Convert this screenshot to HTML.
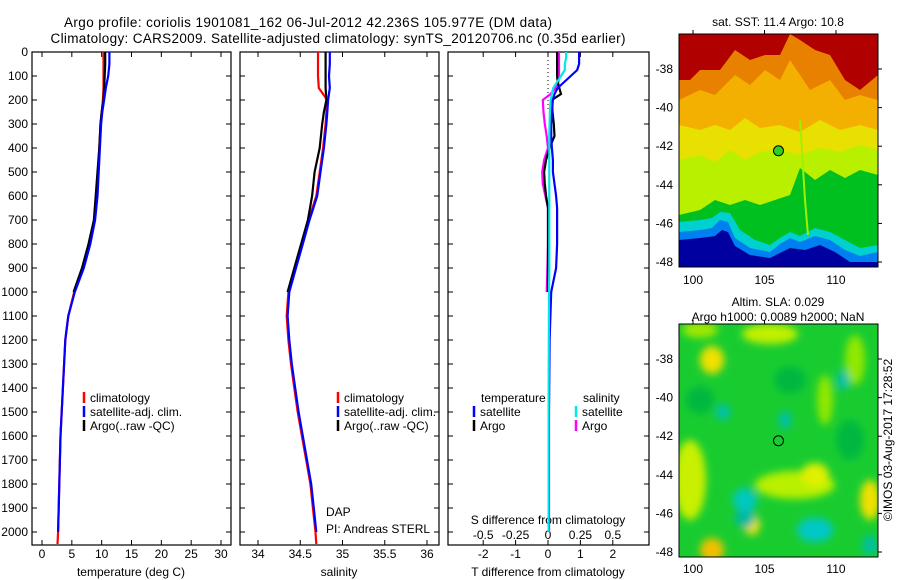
<!DOCTYPE html>
<html><head><meta charset="utf-8"><style>
html,body{margin:0;padding:0;background:#fff;}
svg{display:block;font-family:"Liberation Sans",sans-serif;}
</style></head><body>
<svg id="c" width="900" height="580" viewBox="0 0 900 580" xmlns="http://www.w3.org/2000/svg">
<defs>
<filter id="bl" x="-20%" y="-20%" width="140%" height="140%"><feGaussianBlur stdDeviation="4"/></filter>
<clipPath id="cm1"><rect x="679" y="34" width="199" height="233"/></clipPath>
<clipPath id="cm2"><rect x="679" y="324" width="199" height="233"/></clipPath>
</defs>
<text x="308" y="27" font-size="13.5" text-anchor="middle" textLength="488">Argo profile: coriolis 1901081_162 06-Jul-2012 42.236S 105.977E (DM data)</text>
<text x="338" y="43" font-size="13.5" text-anchor="middle" textLength="575">Climatology: CARS2009. Satellite-adjusted climatology: synTS_20120706.nc (0.35d earlier)</text>

<g clip-path="url(#cm1)">
<rect x="679" y="34" width="199" height="233" fill="#00c020"/>
<path d="M679 34H878V175L860 170 845 178 830 170 815 180 800 168 790 195 775 200 760 205 745 200 730 205 715 200 700 210 679 215Z" fill="#b8f000"/>
<path d="M679 34H878V150L860 145 840 152 820 148 800 155 780 150 760 152 745 160 730 150 715 162 700 155 679 160Z" fill="#e8e000"/>
<path d="M679 34H878V130L860 125 840 130 820 120 800 132 780 125 760 128 745 118 730 130 715 125 700 130 679 125Z" fill="#f4b000"/>
<path d="M679 34H878V100L860 95 845 100 830 80 810 90 800 75 790 60 780 80 765 70 750 85 735 75 715 95 700 90 679 100Z" fill="#e88000"/>
<path d="M679 34H878V75L860 90 845 80 830 55 815 50 800 40 790 34 780 55 765 55 750 60 735 50 720 70 700 70 690 80 679 80Z" fill="#b00000"/>
<path d="M679 222L700 220 712 218 720 212 730 213 740 230 755 240 770 245 780 238 790 232 800 236 815 228 830 232 845 240 860 248 878 245V270H679Z" fill="#00d0d0"/>
<path d="M679 232L700 230 712 228 720 220 728 222 735 238 750 248 770 252 780 244 790 238 800 242 815 236 830 240 845 250 860 256 878 252V270H679Z" fill="#0080f0"/>
<path d="M679 240L700 238 715 236 722 230 728 232 735 246 750 255 770 258 790 248 805 250 820 245 835 252 850 262 878 262V270H679Z" fill="#0000a0"/>
<path d="M800 120L805 200 808 235" stroke="#a0f000" stroke-width="2" fill="none"/>
</g>
<rect x="679" y="34" width="199" height="233" fill="none" stroke="#000"/>
<text x="778" y="26" font-size="12" text-anchor="middle">sat. SST: 11.4 Argo: 10.8</text>

<g clip-path="url(#cm2)">
<rect x="679" y="324" width="199" height="233" fill="#18cc30"/>
<g filter="url(#bl)">
<ellipse cx="690" cy="480" rx="16" ry="40" fill="#c8f000"/>
<ellipse cx="712" cy="360" rx="12" ry="14" fill="#f0e000"/>
<ellipse cx="795" cy="485" rx="40" ry="14" fill="#b8f000"/>
<ellipse cx="815" cy="475" rx="14" ry="12" fill="#e0f000"/>
<ellipse cx="770" cy="334" rx="28" ry="10" fill="#c0f000"/>
<ellipse cx="700" cy="330" rx="18" ry="8" fill="#a0e800"/>
<ellipse cx="870" cy="500" rx="10" ry="20" fill="#f0e000"/>
<ellipse cx="712" cy="550" rx="12" ry="12" fill="#f0c000"/>
<ellipse cx="752" cy="525" rx="8" ry="10" fill="#f0e000"/>
<ellipse cx="825" cy="400" rx="8" ry="25" fill="#90e800"/>
<ellipse cx="855" cy="360" rx="10" ry="25" fill="#90e800"/>
<ellipse cx="700" cy="400" rx="14" ry="14" fill="#00b840"/>
<ellipse cx="790" cy="380" rx="16" ry="14" fill="#00b840"/>
<ellipse cx="850" cy="440" rx="14" ry="20" fill="#00b840"/>
<ellipse cx="745" cy="518" rx="10" ry="10" fill="#00b8a0"/>
<ellipse cx="745" cy="500" rx="12" ry="12" fill="#00c8c0"/>
<ellipse cx="815" cy="530" rx="18" ry="12" fill="#00c8c8"/>
<ellipse cx="723" cy="412" rx="7" ry="8" fill="#00c0b0"/>
<ellipse cx="785" cy="420" rx="6" ry="9" fill="#00c0b0"/>
<ellipse cx="843" cy="380" rx="6" ry="10" fill="#00c0b0"/>
<ellipse cx="870" cy="545" rx="8" ry="10" fill="#00c0a0"/>
</g>
</g>
<rect x="679" y="324" width="199" height="233" fill="none" stroke="#000"/>
<text x="778" y="306" font-size="12" text-anchor="middle">Altim. SLA: 0.029</text>
<text x="778" y="321" font-size="12" text-anchor="middle">Argo h1000: 0.0089 h2000: NaN</text>
<text transform="translate(892,440) rotate(-90)" font-size="12" text-anchor="middle">©IMOS 03-Aug-2017 17:28:52</text>

<text x="326" y="516" font-size="12">DAP</text>
<text x="326" y="533" font-size="12">PI: Andreas STERL</text>
<text x="548" y="524" font-size="12" text-anchor="middle">S difference from climatology</text>
</svg>
<script>
const tDepth = [0,50,100,150,200,250,300,400,500,600,700,800,900,1000,1100,1200,1300,1400,1500,1600,1700,1800,1900,2000,2050];
const tClim = [10.3,10.3,10.3,10.3,10.2,10.0,9.8,9.6,9.4,9.1,8.8,7.9,6.8,5.4,4.4,3.9,3.7,3.5,3.3,3.1,3.0,2.9,2.8,2.7,2.6];
const tSat = [11.3,11.3,11.1,10.7,10.4,10.1,9.9,9.7,9.5,9.3,8.9,8.1,7.0,5.5,4.4,3.9,3.7,3.5,3.3,3.1,3.0,2.9,2.8,2.7];
const tArgo = [10.6,10.6,10.5,10.4,10.3,10.0,9.8,9.6,9.3,9.0,8.7,7.8,6.7,5.3];
const sClim = [34.71,34.71,34.71,34.72,34.82,34.81,34.80,34.77,34.73,34.69,34.60,34.52,34.44,34.36,34.34,34.36,34.39,34.43,34.47,34.52,34.57,34.62,34.65,34.68,34.69];
const sSat = [34.85,34.85,34.84,34.85,34.83,34.82,34.81,34.78,34.74,34.70,34.61,34.53,34.45,34.37,34.35,34.37,34.40,34.44,34.48,34.53,34.58,34.63,34.66,34.69];
const sArgo = [34.80,34.80,34.80,34.80,34.81,34.78,34.76,34.73,34.67,34.64,34.59,34.51,34.43,34.35];
const dDepth = [0,25,50,75,100,125,150,175,200,250,300,350,400,450,500,550,600,650,700,800,900,1000,1200,1500,2000];
const dTSat = [0.96,0.96,0.96,0.9,0.7,0.5,0.3,0.2,0.15,0.12,0.1,0.1,0.12,0.15,0.15,0.2,0.25,0.28,0.28,0.28,0.25,0.1,0.05,0.03,0.03];
const dTArgo = [0.28,0.28,0.28,0.28,0.28,0.3,0.35,0.4,0.12,0.14,0.18,0.2,0.05,-0.06,-0.12,-0.1,-0.06,0,0,0,0,0];
const dSSat = [0.14,0.14,0.13,0.13,0.1,0.07,0.04,0.03,0.02,0.015,0.012,0.01,0.01,0.01,0.01,0.01,0.01,0.01,0.01,0.01,0.01,0.008,0.006,0.005,0.005];
const dSArgo = [0.085,0.085,0.085,0.085,0.085,0.08,0.06,0.02,-0.04,-0.035,-0.025,-0.01,0,-0.03,-0.045,-0.04,-0.02,0,0,0,-0.005,-0.01];
const depthTicks = [0,100,200,300,400,500,600,700,800,900,1000,1100,1200,1300,1400,1500,1600,1700,1800,1900,2000];
const tTicks = [0,5,10,15,20,25,30];
const sTicks = [34,34.5,35,35.5,36];
const dTTicks = [-2,-1,0,1,2];
const dSTicks = [-0.5,-0.25,0,0.25,0.5];
const lonTicks = [100,105,110];
const latTicks = [-38,-40,-42,-44,-46,-48];
const argoLon = 105.977, argoLat = -42.236;

const NS = 'http://www.w3.org/2000/svg';
const svg = document.getElementById('c');
const top0 = 52, bot0 = 545;
const yD = d => top0 + d * 0.24;
const xT = v => 42 + v * (179/30);
const xS = v => 258 + (v - 34) * 84.5;
const xDT = v => 548 + v * 32.4;
const xDS = v => 548 + v * 129.6;
const xLon = v => 693 + (v - 100) * 14.3;
const yLat1 = v => 69 + (-38 - v) * 19.3;
const yLat2 = v => 359 + (-38 - v) * 19.3;
function mk(tag, attrs, parent) {
  const e = document.createElementNS(NS, tag);
  for (const k in attrs) e.setAttribute(k, attrs[k]);
  (parent || svg).appendChild(e);
  return e;
}
function txt(x, y, s, anchor, size) {
  const t = mk('text', {x: x, y: y, 'font-size': size || 12, 'text-anchor': anchor || 'middle'});
  t.textContent = s;
  return t;
}
const panels = [[32,231],[240,439],[448,649]];
panels.forEach((p, i) => {
  const r = mk('rect', {x: p[0], y: top0, width: p[1]-p[0], height: bot0-top0, fill: 'none', stroke: '#000', 'stroke-width': 1.2});
  
  
  depthTicks.forEach(d => {
    mk('line', {x1: p[0], x2: p[0]+5, y1: yD(d), y2: yD(d), stroke: '#000'});
    mk('line', {x1: p[1]-5, x2: p[1], y1: yD(d), y2: yD(d), stroke: '#000'});
  });
});
depthTicks.forEach(d => {
  const t = txt(28, yD(d) + 4, String(d), 'end');
  
  
});
function xTicks(ticks, fx, y) {
  ticks.forEach(v => {
    const x = fx(v);
    mk('line', {x1: x, x2: x, y1: top0, y2: top0+5, stroke: '#000'});
    mk('line', {x1: x, x2: x, y1: bot0-5, y2: bot0, stroke: '#000'});
    const t = txt(x, y, String(v));
    
    
  });
}
xTicks(tTicks, xT, 558);
xTicks(sTicks, xS, 558);
xTicks(dTTicks, xDT, 558);
dSTicks.forEach(v => {
  const t = txt(xDS(v), 539, String(v));
  
  
});
[['temperature (deg C)',131,'temperature-axis-title'],['salinity',339,'salinity-axis-title'],['T difference from climatology',548,'t-diff-axis-title']].forEach(a => {
  const t = txt(a[1], 576, a[0]);
  
  
});
const zl = mk('line', {x1: xDT(0), x2: xDT(0), y1: top0, y2: yD(250), stroke: '#000', 'stroke-dasharray': '1,3'});



function series(depths, vals, fx, color, name) {
  const pts = vals.map((v, i) => fx(v).toFixed(1) + ',' + yD(depths[i]).toFixed(1)).join(' ');
  const l = mk('polyline', {points: pts, fill: 'none', stroke: color, 'stroke-width': 2.2});
  
  
}
series(tDepth, tClim, xT, '#ff0000', 'temp-climatology-line');
series(tDepth, tArgo, xT, '#000000', 'temp-argo-line');
series(tDepth, tSat, xT, '#0000ff', 'temp-satellite-line');
series(tDepth, sClim, xS, '#ff0000', 'sal-climatology-line');
series(tDepth, sArgo, xS, '#000000', 'sal-argo-line');
series(tDepth, sSat, xS, '#0000ff', 'sal-satellite-line');
series(dDepth, dSArgo, xDS, '#ff00ff', 'sdiff-argo-line');
series(dDepth, dTArgo, xDT, '#000000', 'tdiff-argo-line');
series(dDepth, dTSat, xDT, '#0000ff', 'tdiff-satellite-line');
series(dDepth, dSSat, xDS, '#00e8e8', 'sdiff-satellite-line');

function legendItem(x, y, color, label, name) {
  mk('line', {x1: x, x2: x, y1: y-10, y2: y+1, stroke: color, 'stroke-width': 2.5});
  const t = txt(x+6, y, label, 'start');
  
  
}
[[84,'climatology','#ff0000'],[84,'satellite-adj. clim.','#0000ff'],[84,'Argo(..raw -QC)','#000000']].forEach((a,i) => {
  legendItem(a[0], 402 + i*14, a[2], a[1], 'temp-legend-entry');
  legendItem(a[0]+254, 402 + i*14, a[2], a[1], 'sal-legend-entry');
});
let lt = txt(481, 402, 'temperature', 'start');


lt = txt(583, 402, 'salinity', 'start');


legendItem(474, 416, '#0000ff', 'satellite', 'diff-legend-entry');
legendItem(474, 430, '#000000', 'Argo', 'diff-legend-entry');
legendItem(576, 416, '#00e8e8', 'satellite', 'diff-legend-entry');
legendItem(576, 430, '#ff00ff', 'Argo', 'diff-legend-entry');

[[yLat1, 34, 267, 284],[yLat2, 324, 557, 573]].forEach((m, mi) => {
  lonTicks.forEach(v => {
    mk('line', {x1: xLon(v), x2: xLon(v), y1: m[1]-4, y2: m[1], stroke: '#000'});
    const t = txt(xLon(v), m[3], String(v));
    
    
  });
  latTicks.forEach(v => {
    mk('line', {x1: 878, x2: 882, y1: m[0](v), y2: m[0](v), stroke: '#000'});
    const t = txt(673, m[0](v) + 4, String(v), 'end');
    
    
  });
  const c = mk('circle', {cx: xLon(argoLon), cy: m[0](argoLat), r: 5, fill: mi === 0 ? '#30d020' : 'none', stroke: '#000', 'stroke-width': 1});
  
  
});
</script>
</body></html>
